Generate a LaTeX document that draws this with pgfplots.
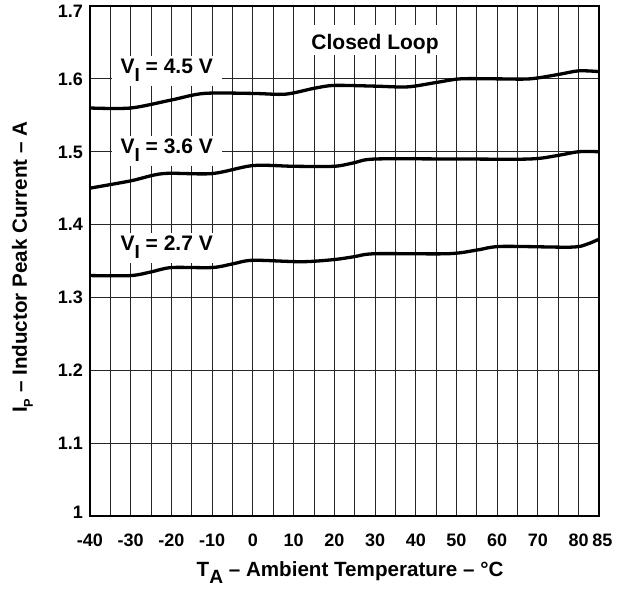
\documentclass[border=0pt]{standalone}
\usepackage{fontspec}
\setmainfont{Liberation Sans}
\usepackage{graphicx}
\usepackage{pgfplots}
\pgfplotsset{compat=1.18}
\newcommand\lowsub[3]{\raisebox{#2}{\scalebox{#3}{#1}}}

\pgfplotstableread{
T I
-40 1.560
-30 1.560
-20 1.571
-12 1.580
0 1.580
8 1.579
15 1.587
20 1.591
30 1.590
38 1.589
45 1.595
51 1.600
60 1.600
68 1.600
75 1.606
80 1.611
85 1.610
}\vfour

\pgfplotstableread{
T I
-40 1.450
-30 1.460
-22 1.470
-10 1.470
0 1.481
10 1.480
20 1.480
25 1.485
30 1.490
50 1.490
68 1.490
75 1.495
80 1.500
85 1.500
}\vthree

\pgfplotstableread{
T I
-40 1.330
-30 1.330
-25 1.335
-20 1.341
-10 1.341
-5 1.346
0 1.351
12 1.349
20 1.352
25 1.356
30 1.360
48 1.360
55 1.365
61 1.370
78 1.369
82 1.373
85 1.380
}\vtwo

\begin{document}
\begin{tikzpicture}[
  lbl/.style={fill=white, font=\fontsize{21}{24}\selectfont\bfseries, inner xsep=9pt, inner ysep=2pt, text height=16pt, text depth=10pt, anchor=base},
]
\path[use as bounding box] (-90pt,-75pt) rectangle (536pt,516pt);
\begin{axis}[
  at={(0pt,0pt)}, anchor=south west,
  width=509pt, height=510pt, scale only axis,
  xmin=-40, xmax=85, ymin=1, ymax=1.7,
  xtick={-40,-30,-20,-10,0,10,20,30,40,50,60,70,80,85},
  xticklabels={-40,-30,-20,-10,0,10,20,30,40,50,60,70,80,\hspace*{7pt}85},
  minor xtick={-35,-25,-15,-5,5,15,25,35,45,55,65,75},
  ytick={1,1.1,1.2,1.3,1.4,1.5,1.6,1.7},
  yticklabels={\raisebox{4pt}{1},1.1,1.2,1.3,1.4,1.5,1.6,\raisebox{-5pt}{1.7}},
  grid=both,
  major grid style={black!85, line width=0.9pt},
  minor grid style={black!85, line width=0.9pt},
  tick style={draw=none},
  major tick length=0pt, minor tick length=0pt,
  axis line style={line width=2pt},
  ticklabel style={font=\fontsize{18}{21}\selectfont\bfseries, inner sep=0pt},
  xticklabel style={anchor=base, yshift=-30.7pt},
  yticklabel style={anchor=base east, xshift=-7pt, yshift=-6.4pt},
  xlabel={T\lowsub{A}{-6.7pt}{0.93} -- Ambient Temperature -- °C},
  ylabel={I\lowsub{P}{-6pt}{0.62} -- Inductor Peak Current -- A},
  label style={font=\fontsize{20.6}{24}\selectfont\bfseries},
  xlabel style={at={(axis description cs:0.511,-0.119)}, anchor=base},
  ylabel style={at={(axis description cs:-0.1238,0.488)}, anchor=base},
]
\addplot[black, line width=3.3pt, smooth] table[x=T, y=I] {\vfour};
\addplot[black, line width=3.3pt, smooth] table[x=T, y=I] {\vthree};
\addplot[black, line width=3.3pt, smooth] table[x=T, y=I] {\vtwo};
\node[lbl] at (axis cs:-21.16,1.6067) {V\lowsub{I}{-7.5pt}{0.9} = 4.5 V};
\node[lbl] at (axis cs:-21.16,1.4969) {V\lowsub{I}{-7.5pt}{0.9} = 3.6 V};
\node[lbl] at (axis cs:-21.16,1.3641) {V\lowsub{I}{-7.5pt}{0.9} = 2.7 V};
\node[lbl, text height=22pt, text depth=4pt, inner xsep=8pt] at (axis cs:30,1.6406) {Closed Loop};
\end{axis}
\end{tikzpicture}
\end{document}
